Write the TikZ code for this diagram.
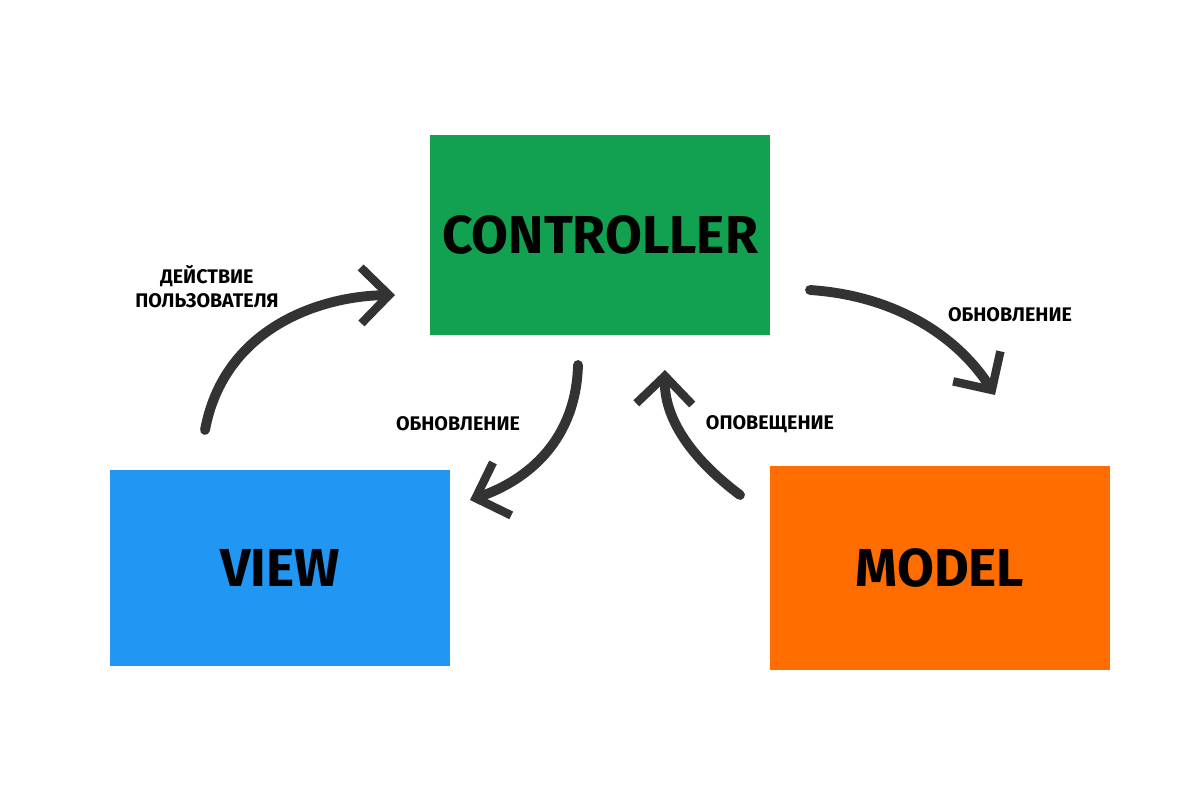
\documentclass[tikz,border=0pt]{standalone}
\usepackage{fontspec}
\setmainfont{Fira Sans}
\usetikzlibrary{arrows.meta}
\definecolor{ctrlgreen}{HTML}{12A150}
\definecolor{viewblue}{HTML}{2196F3}
\definecolor{modelorange}{HTML}{FF6D00}
\definecolor{arrowgray}{HTML}{333333}
\tikzset{
  box/.style={minimum width=8.5cm, minimum height=5cm, inner sep=0pt,
    font=\fontsize{38}{40}\selectfont\bfseries},
  flow/.style={arrowgray, line width=7pt, line cap=round,
    -{Straight Barb[length=7mm, width=14mm, line width=6pt]}},
  lbl/.style={font=\fontsize{14}{17}\selectfont\bfseries, align=center}
}
\begin{document}
\begin{tikzpicture}
  \useasboundingbox (0,0) rectangle (30,20);

  % blocks
  \node[box, fill=ctrlgreen] (ctrl) at (15,14.125) {CONTROLLER};
  \node[box, fill=viewblue, minimum height=4.9cm] (view) at (7,5.8) {VIEW};
  \node[box, fill=modelorange, minimum height=5.1cm] (model) at (23.5,5.8) {MODEL};

  % arrow ends
  \coordinate (a1s) at (5.125,9.25);
  \coordinate (a1e) at (9.875,12.625);
  \coordinate (a2s) at (14.45,10.875);
  \coordinate (a2e) at (11.75,7.5);
  \coordinate (a3s) at (18.5,7.625);
  \coordinate (a3e) at (16.625,10.75);
  \coordinate (a4s) at (20.25,12.75);
  \coordinate (a4e) at (24.875,10.125);

  \draw[flow] (a1s) .. controls (5.6,11.8) and (8,12.6) .. (a1e);
  \draw[flow] (a2s) .. controls (14.4,9) and (13.2,8) .. (a2e);
  \draw[flow] (a3s) .. controls (17.2,8.6) and (16.6,9.6) .. (a3e);
  \draw[flow] (a4s) .. controls (22.5,12.6) and (24,11.5) .. (a4e);

  % labels
  \node[lbl] (l1) at (5.175,12.825) {ДЕЙСТВИЕ\\ПОЛЬЗОВАТЕЛЯ};
  \node[lbl] (l2) at (11.45,9.4) {ОБНОВЛЕНИЕ};
  \node[lbl] (l3) at (19.25,9.4) {ОПОВЕЩЕНИЕ};
  \node[lbl] (l4) at (25.25,12.125) {ОБНОВЛЕНИЕ};
\end{tikzpicture}
\end{document}
